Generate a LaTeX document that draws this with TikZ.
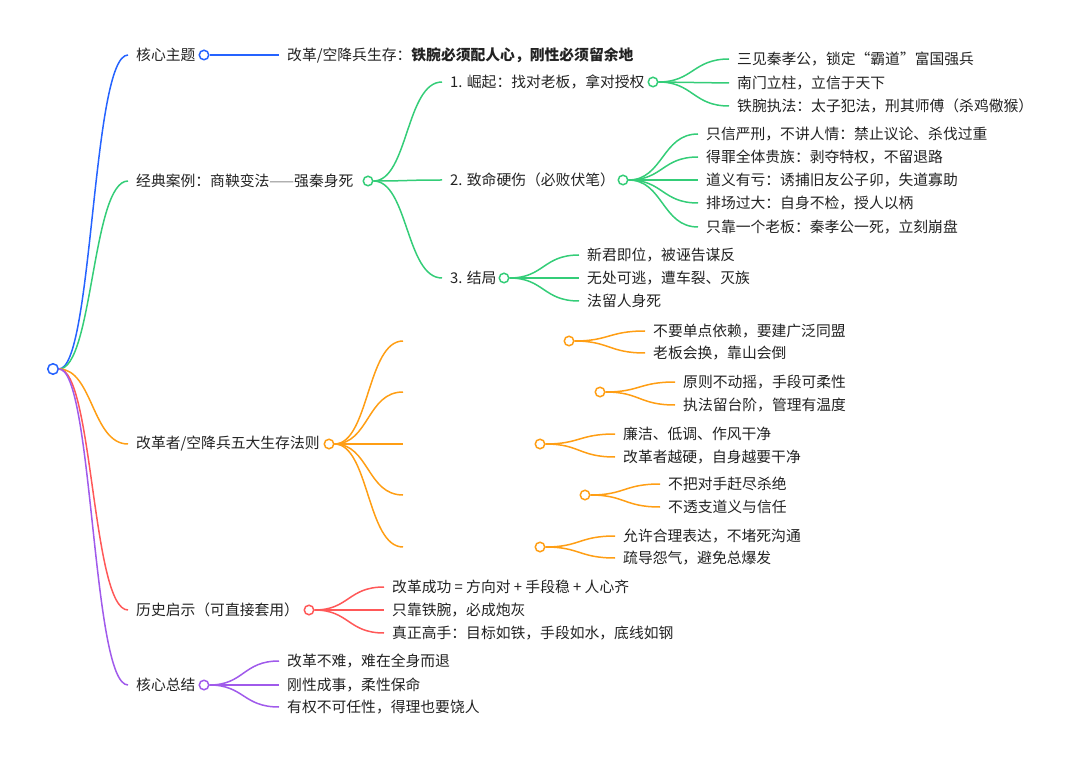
\documentclass[tikz,border=0pt]{standalone}
\usepackage{fontspec}
\setmainfont{Noto Sans CJK SC}
\definecolor{mblue}{RGB}{37,99,255}
\definecolor{mgreen}{RGB}{52,205,120}
\definecolor{morange}{RGB}{255,158,20}
\definecolor{mred}{RGB}{255,88,88}
\definecolor{mpurple}{RGB}{160,90,235}
\definecolor{ink}{RGB}{34,34,34}
\begin{document}
\begin{tikzpicture}[x=1pt, y=-1pt,
  txt/.style={anchor=west, inner xsep=4pt, inner ysep=2pt, text=ink, font=\fontsize{14.8}{17}\selectfont},
  dot/.style={circle, draw=#1, fill=white, line width=1.5pt, minimum size=9.5pt, inner sep=0pt},
  link/.style={draw=#1, line width=1.5pt, shorten >=4pt}]
\useasboundingbox (0,0) rectangle (1080,762);
% Root
\node[dot=mblue, minimum size=10.5pt] (root) at (53,369) {};
% First level
\node[txt] (theme) at (132,55) {核心主题};
\node[txt] (case) at (132,181) {经典案例：商鞅变法{\color{gray}——}强秦身死};
\node[txt] (rules) at (132,444) {改革者/空降兵五大生存法则};
\node[txt] (hist) at (132,610) {历史启示（可直接套用）};
\node[txt] (summ) at (132,685) {核心总结};
\node[dot=mblue] (themec) at (204,55) {};
\node[dot=mgreen] (casec) at (368,181) {};
\node[dot=morange] (rulesc) at (329,444) {};
\node[dot=mred] (histc) at (309,610) {};
\node[dot=mpurple] (summc) at (204,685) {};
\draw[link=mblue] (root) .. controls +(40,0) and +(-40,0) .. (theme.west);
\draw[link=mgreen] (root) .. controls +(40,0) and +(-40,0) .. (case.west);
\draw[link=morange] (root) .. controls +(40,0) and +(-40,0) .. (rules.west);
\draw[link=mred] (root) .. controls +(40,0) and +(-40,0) .. (hist.west);
\draw[link=mpurple] (root) .. controls +(40,0) and +(-40,0) .. (summ.west);
% Core theme
\node[txt] (themel) at (283,55) {改革/空降兵生存：\textbf{铁腕必须配人心，刚性必须留余地}};
\draw[link=mblue] (themec) .. controls +(40,0) and +(-40,0) .. (themel.west);
% Classic case: three stages
\node[txt] (rise) at (446,82) {1. 崛起：找对老板，拿对授权};
\node[txt] (flaw) at (446,180) {2. 致命硬伤（必败伏笔）};
\node[txt] (end) at (446,278) {3. 结局};
\node[dot=mgreen] (risec) at (653,82) {};
\node[dot=mgreen] (flawc) at (623,180) {};
\node[dot=mgreen] (endc) at (504,278) {};
\foreach \n in {rise,flaw,end}
  \draw[link=mgreen] (casec) .. controls +(40,0) and +(-40,0) .. (\n.west);
\foreach \y/\t [count=\i] in {59/三见秦孝公，锁定“霸道”富国强兵, 83/南门立柱，立信于天下,
    106/铁腕执法：太子犯法，刑其师傅（杀鸡儆猴）} {
  \node[txt] (rise\i) at (733,\y) {\t};
  \draw[link=mgreen] (risec) .. controls +(40,0) and +(-40,0) .. (rise\i.west);
}
\foreach \y/\t [count=\i] in {134/只信严刑，不讲人情：禁止议论、杀伐过重, 157/得罪全体贵族：剥夺特权，不留退路,
    180/道义有亏：诱捕旧友公子卯，失道寡助, 203/排场过大：自身不检，授人以柄,
    227/只靠一个老板：秦孝公一死，立刻崩盘} {
  \node[txt] (flaw\i) at (702,\y) {\t};
  \draw[link=mgreen] (flawc) .. controls +(40,0) and +(-40,0) .. (flaw\i.west);
}
\foreach \y/\t [count=\i] in {255/新君即位，被诬告谋反, 278/无处可逃，遭车裂、灭族, 301/法留人身死} {
  \node[txt] (end\i) at (583,\y) {\t};
  \draw[link=mgreen] (endc) .. controls +(40,0) and +(-40,0) .. (end\i.west);
}
% Five rules (their own labels are blank)
\foreach \y/\cx [count=\i] in {341/569, 392/600, 444/540, 495/585, 547/540} {
  \node[txt] (rule\i) at (407,\y) {};
  \node[dot=morange] (rule\i c) at (\cx,\y) {};
  \draw[link=morange] (rulesc) .. controls +(40,0) and +(-40,0) .. (rule\i.west);
}
\foreach \r/\x/\y/\t in {1/649/331/不要单点依赖，要建广泛同盟, 1/649/353/老板会换，靠山会倒,
    2/679/382/原则不动摇，手段可柔性, 2/679/405/执法留台阶，管理有温度,
    3/619/434/廉洁、低调、作风干净, 3/619/457/改革者越硬，自身越要干净,
    4/664/484/不把对手赶尽杀绝, 4/664/507/不透支道义与信任,
    5/619/536/允许合理表达，不堵死沟通, 5/619/558/疏导怨气，避免总爆发} {
  \node[txt] (leaf\y) at (\x,\y) {\t};
  \draw[link=morange] (rule\r c) .. controls +(40,0) and +(-40,0) .. (leaf\y.west);
}
% Lessons from history
\foreach \y/\t [count=\i] in {587/改革成功 = 方向对 + 手段稳 + 人心齐, 610/只靠铁腕，必成炮灰,
    633/真正高手：目标如铁，手段如水，底线如钢} {
  \node[txt] (hist\i) at (388,\y) {\t};
  \draw[link=mred] (histc) .. controls +(40,0) and +(-40,0) .. (hist\i.west);
}
% Core summary
\foreach \y/\t [count=\i] in {661/改革不难，难在全身而退, 685/刚性成事，柔性保命, 707/有权不可任性，得理也要饶人} {
  \node[txt] (summ\i) at (283,\y) {\t};
  \draw[link=mpurple] (summc) .. controls +(40,0) and +(-40,0) .. (summ\i.west);
}
\end{tikzpicture}
\end{document}
